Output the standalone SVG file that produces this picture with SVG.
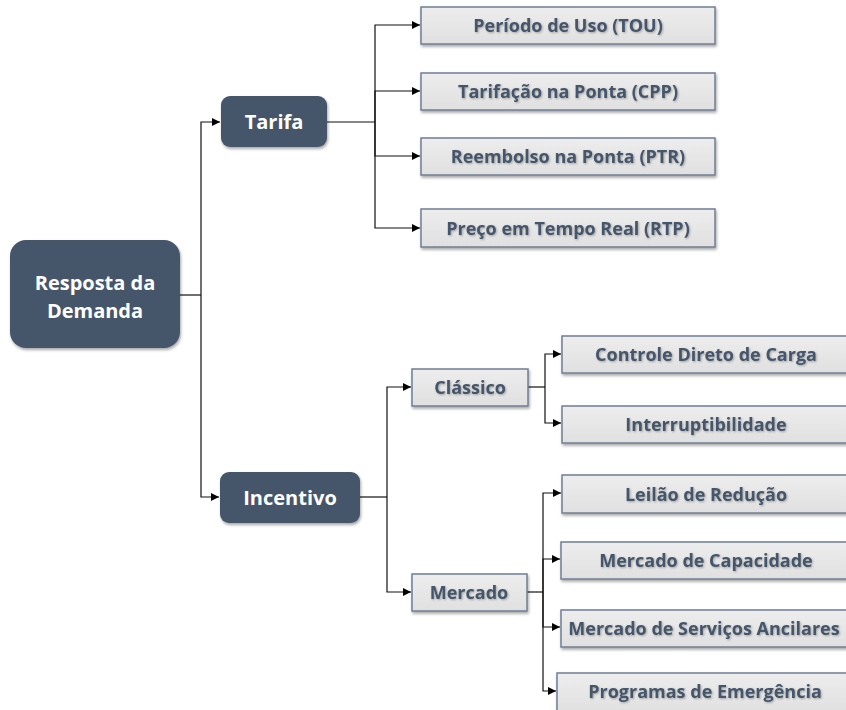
<svg xmlns="http://www.w3.org/2000/svg" width="846" height="710" viewBox="0 0 846 710">
<defs>
<marker id="arr" viewBox="0 0 10 10" refX="10" refY="5" markerWidth="8" markerHeight="8" markerUnits="userSpaceOnUse" orient="auto">
<path d="M0,0 L10,5 L0,10 z" fill="#000"/>
</marker>
<filter id="sh" x="-10%" y="-20%" width="120%" height="150%">
<feGaussianBlur in="SourceAlpha" stdDeviation="1.5"/>
<feOffset dx="1" dy="2" result="b"/>
<feComponentTransfer><feFuncA type="linear" slope="0.35"/></feComponentTransfer>
<feMerge><feMergeNode/><feMergeNode in="SourceGraphic"/></feMerge>
</filter>
<filter id="tsh" x="-5%" y="-20%" width="110%" height="150%">
<feGaussianBlur in="SourceAlpha" stdDeviation="0.8"/>
<feOffset dx="0.8" dy="1" result="b"/>
<feComponentTransfer><feFuncA type="linear" slope="0.3"/></feComponentTransfer>
<feMerge><feMergeNode/><feMergeNode in="SourceGraphic"/></feMerge>
</filter>
<linearGradient id="lg" x1="0" y1="0" x2="0" y2="1">
<stop offset="0" stop-color="#ededed"/>
<stop offset="1" stop-color="#e0e0e0"/>
</linearGradient>
</defs>
<style>
.dark{fill:#44546a;filter:url(#sh);}
.leaf{fill:url(#lg);stroke:#6f7f95;stroke-width:1.5;filter:url(#sh);}
.dt{fill:#fff;font-family:"Open Sans","Noto Sans",sans-serif;font-weight:bold;font-size:20px;text-anchor:middle;dominant-baseline:central;}
.lt{fill:#44546a;font-family:"Open Sans","Noto Sans",sans-serif;font-weight:bold;font-size:18px;text-anchor:middle;dominant-baseline:central;filter:url(#tsh);}
.c{fill:none;stroke:#111;stroke-width:1.2;}
.ca{fill:none;stroke:#111;stroke-width:1.2;marker-end:url(#arr);}
</style>
<rect width="846" height="710" fill="#fff"/>
<g id="connectors">
<path class="c" d="M180,295 H201"/>
<path class="ca" d="M201,295 V122 H220"/>
<path class="ca" d="M201,295 V497 H219"/>
<path class="c" d="M327,122 H375"/>
<path class="ca" d="M375,122 V25 H420"/>
<path class="ca" d="M375,122 V91 H420"/>
<path class="ca" d="M375,122 V156 H420"/>
<path class="ca" d="M375,122 V228 H420"/>
<path class="c" d="M360,497 H387"/>
<path class="ca" d="M387,497 V387 H411"/>
<path class="ca" d="M387,497 V592 H411"/>
<path class="c" d="M528,387 H545"/>
<path class="ca" d="M545,387 V354 H561"/>
<path class="ca" d="M545,387 V423 H561"/>
<path class="c" d="M527,592 H543"/>
<path class="ca" d="M543,592 V493 H561"/>
<path class="ca" d="M543,592 V559 H560"/>
<path class="ca" d="M543,592 V627 H560"/>
<path class="ca" d="M543,592 V691 H556"/>
</g>
<g id="root">
<rect class="dark" x="10" y="240" width="170" height="108" rx="16"/>
<text class="dt" x="95" y="282">Resposta da</text>
<text class="dt" x="95" y="310">Demanda</text>
</g>
<g id="tarifa">
<rect class="dark" x="221" y="96" width="106" height="51" rx="9"/>
<text class="dt" x="274" y="121">Tarifa</text>
</g>
<g id="incentivo">
<rect class="dark" x="220" y="472" width="140" height="51" rx="9"/>
<text class="dt" x="290" y="497">Incentivo</text>
</g>
<g id="tou">
<rect class="leaf" x="421" y="7" width="294" height="37"/>
<text class="lt" x="568" y="25">Período de Uso (TOU)</text>
</g>
<g id="cpp">
<rect class="leaf" x="421" y="73" width="294" height="37"/>
<text class="lt" x="568" y="91">Tarifação na Ponta (CPP)</text>
</g>
<g id="ptr">
<rect class="leaf" x="421" y="138" width="294" height="37"/>
<text class="lt" x="568" y="156">Reembolso na Ponta (PTR)</text>
</g>
<g id="rtp">
<rect class="leaf" x="421" y="209" width="294" height="38"/>
<text class="lt" x="568" y="228">Preço em Tempo Real (RTP)</text>
</g>
<g id="classico">
<rect class="leaf" x="412" y="369" width="116" height="37"/>
<text class="lt" x="470" y="387">Clássico</text>
</g>
<g id="mercado">
<rect class="leaf" x="412" y="574" width="115" height="37"/>
<text class="lt" x="469" y="592">Mercado</text>
</g>
<g id="controle">
<rect class="leaf" x="562" y="336" width="290" height="37"/>
<text class="lt" x="706" y="354">Controle Direto de Carga</text>
</g>
<g id="interrupt">
<rect class="leaf" x="562" y="406" width="290" height="37"/>
<text class="lt" x="706" y="424">Interruptibilidade</text>
</g>
<g id="leilao">
<rect class="leaf" x="562" y="475" width="290" height="38"/>
<text class="lt" x="706" y="494">Leilão de Redução</text>
</g>
<g id="capacidade">
<rect class="leaf" x="561" y="542" width="290" height="37"/>
<text class="lt" x="706" y="560">Mercado de Capacidade</text>
</g>
<g id="ancilares">
<rect class="leaf" x="561" y="610" width="290" height="37"/>
<text class="lt" x="704" y="628">Mercado de Serviços Ancilares</text>
</g>
<g id="emergencia">
<rect class="leaf" x="557" y="673" width="295" height="40"/>
<text class="lt" x="705" y="691">Programas de Emergência</text>
</g>
</svg>
